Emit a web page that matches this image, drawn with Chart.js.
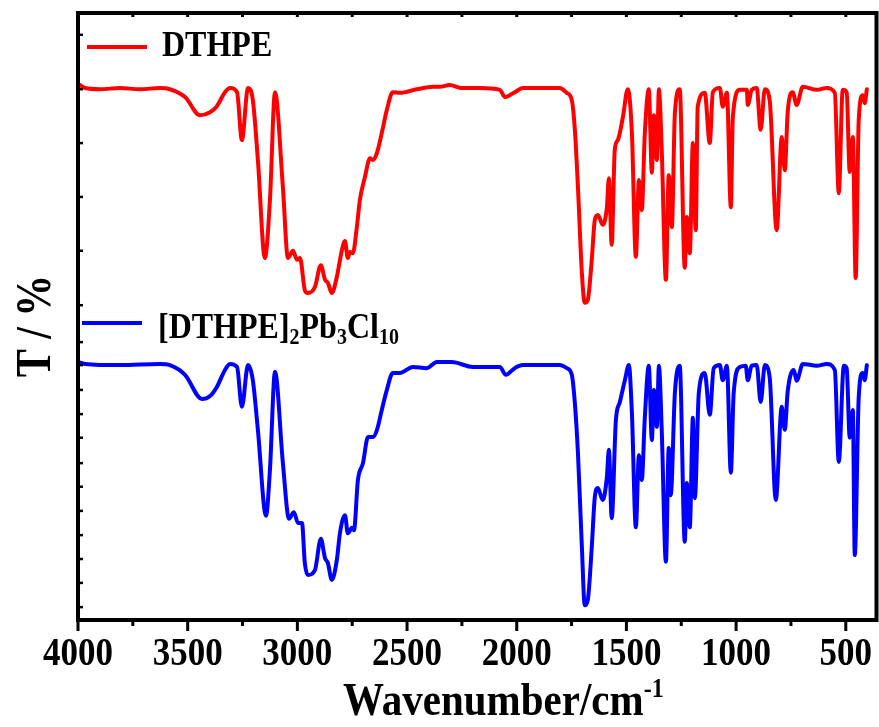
<!DOCTYPE html>
<html>
<head>
<meta charset="utf-8">
<script src="https://cdn.jsdelivr.net/npm/chart.js@4"></script>
<style>
  body { margin: 0; background: #fff; }
  #wrap { width: 879px; height: 727px; }
</style>
</head>
<body>
<div id="wrap"><canvas id="myChart" width="879" height="727"></canvas></div>
<script>
// wavenumber (cm-1) and offset transmittance
const redWavenumber = [
    4000, 3968, 3900, 3809, 3717, 3626, 3581, 3512, 3444, 3398,
    3367, 3330, 3307, 3275, 3253, 3225, 3203, 3180, 3148, 3125,
    3102, 3066, 3043, 3020, 3002, 2988, 2966, 2952, 2920, 2893,
    2874, 2861, 2843, 2820, 2797, 2783, 2770, 2760, 2747, 2729,
    2715, 2692, 2669, 2656, 2637, 2615, 2592, 2565, 2533, 2455,
    2382, 2350, 2305, 2250, 2168, 2077, 2054, 2009, 1972, 1895,
    1804, 1772, 1749, 1735, 1721, 1703, 1690, 1676, 1658, 1644,
    1630, 1608, 1589, 1580, 1567, 1553, 1539, 1516, 1494, 1475,
    1457, 1443, 1430, 1416, 1398, 1384, 1375, 1361, 1352, 1339,
    1320, 1307, 1293, 1279, 1257, 1234, 1225, 1211, 1197, 1184,
    1175, 1143, 1120, 1106, 1074, 1061, 1042, 1024, 1015, 983,
    951, 947, 929, 906, 888, 869, 847, 815, 792, 778,
    765, 742, 724, 696, 632, 587, 550, 532, 514, 496,
    482, 468, 455, 441, 423, 414, 404
];
const redT = [
    88.3, 87.6, 87.4, 87.6, 87.4, 87.6, 87.4, 86.1, 83.1, 83.6,
    84.6, 86.9, 87.6, 86.9, 79.0, 87.6, 85.6, 75.7, 59.5, 69.1,
    86.9, 71.2, 59.5, 60.7, 59.2, 59.5, 54.2, 53.7, 54.7, 58.3,
    55.9, 55.4, 53.7, 56.4, 60.8, 62.3, 59.5, 60.5, 60.3, 64.6,
    69.1, 72.9, 76.0, 75.7, 76.9, 80.2, 84.0, 86.9, 86.8, 87.4,
    87.8, 87.8, 88.1, 87.6, 87.6, 87.3, 86.1, 86.9, 87.6, 87.6,
    87.6, 86.8, 85.6, 80.7, 71.2, 57.0, 52.1, 52.6, 59.2, 65.8,
    66.6, 65.0, 67.9, 72.7, 61.7, 77.4, 79.0, 82.8, 87.4, 80.2,
    59.7, 72.4, 67.4, 80.2, 87.4, 73.6, 83.1, 75.7, 87.4, 77.4,
    55.9, 73.2, 64.6, 83.5, 87.4, 57.9, 66.3, 60.3, 78.5, 64.1,
    84.5, 86.8, 78.5, 86.9, 87.6, 84.5, 86.8, 67.9, 82.8, 87.3,
    87.3, 84.8, 87.3, 87.6, 80.7, 87.4, 85.6, 64.1, 79.5, 74.0,
    83.5, 86.9, 84.8, 87.8, 87.3, 87.6, 86.8, 70.2, 87.3, 86.9,
    73.7, 79.5, 56.2, 82.3, 86.4, 85.1, 87.4
];
const blueWavenumber = [
    4000, 3968, 3809, 3626, 3581, 3512, 3435, 3398, 3367, 3330,
    3307, 3275, 3253, 3225, 3203, 3180, 3143, 3125, 3102, 3066,
    3038, 3016, 2997, 2979, 2966, 2952, 2920, 2893, 2874, 2861,
    2843, 2820, 2806, 2783, 2770, 2751, 2742, 2724, 2701, 2678,
    2656, 2637, 2615, 2592, 2565, 2533, 2473, 2410, 2364, 2296,
    2200, 2077, 2050, 2009, 1972, 1804, 1772, 1749, 1735, 1721,
    1703, 1690, 1676, 1658, 1644, 1630, 1608, 1589, 1580, 1567,
    1548, 1530, 1507, 1489, 1475, 1457, 1443, 1430, 1416, 1398,
    1384, 1375, 1361, 1352, 1339, 1320, 1307, 1298, 1279, 1257,
    1234, 1225, 1211, 1197, 1188, 1170, 1143, 1120, 1102, 1074,
    1061, 1042, 1024, 1011, 983, 956, 947, 929, 906, 888,
    869, 847, 819, 792, 778, 765, 737, 724, 696, 632,
    587, 550, 532, 509, 496, 482, 468, 459, 441, 423,
    414, 404
];
const blueT = [
    42.3, 42.0, 41.8, 42.0, 41.8, 40.2, 36.2, 36.7, 38.2, 41.0,
    42.0, 41.5, 34.9, 41.8, 39.3, 31.1, 16.9, 24.5, 40.7, 25.6,
    16.4, 17.5, 15.7, 15.7, 9.1, 7.1, 7.9, 13.1, 9.9, 9.1,
    6.3, 9.6, 14.0, 17.0, 14.0, 14.9, 14.5, 22.8, 25.6, 29.9,
    29.9, 31.1, 34.4, 37.7, 40.5, 40.5, 41.5, 41.3, 42.3, 42.3,
    41.5, 41.5, 40.2, 41.3, 41.8, 41.8, 41.3, 40.2, 35.5, 27.3,
    11.7, 2.1, 3.0, 11.7, 20.0, 21.5, 19.5, 23.3, 27.8, 16.5,
    32.7, 35.7, 39.3, 41.8, 33.9, 15.0, 26.9, 22.8, 33.2, 41.7,
    29.4, 37.7, 31.6, 41.7, 31.1, 9.3, 28.1, 20.3, 37.2, 41.7,
    12.6, 22.3, 15.0, 33.1, 19.8, 37.2, 40.5, 33.6, 41.3, 41.8,
    39.3, 41.7, 24.0, 37.2, 41.5, 41.7, 39.3, 41.7, 41.8, 35.7,
    41.8, 39.8, 19.5, 34.9, 31.1, 37.4, 41.0, 39.2, 42.0, 41.7,
    42.0, 41.0, 25.8, 41.7, 41.3, 29.8, 34.4, 10.4, 36.5, 40.5,
    39.3, 41.8
];

const xTickLabels = [4000, 3500, 3000, 2500, 2000, 1500, 1000, 500];
const yTickValues = [96.4, 87.4, 78.5, 69.6, 60.7, 51.7,
    45.6, 41.8, 37.7, 33.7, 29.8, 25.6, 21.7, 17.7, 13.7, 9.75, 5.8, 1.8];

// legend text pieces, [text, isSubscript]
const redLabel = [['DTHPE', false]];
const blueLabel = [['[DTHPE]', false], ['2', true], ['Pb', false], ['3', true], ['Cl', false], ['10', true]];

const FONT = "'Liberation Serif', 'Times New Roman', serif";
const STRETCH = 1.14;

function toPoints(xs, ys) {
    return xs.map((x, i) => ({ x: x, y: ys[i] }));
}

/**
 * Draw bold serif text, a bit taller than wide like the original figure.
 */
function stretchedText(ctx, str, x, y, size, align, stretch) {
    ctx.save();
    ctx.font = 'bold ' + size + 'px ' + FONT;
    ctx.textAlign = align || 'left';
    ctx.textBaseline = 'alphabetic';
    ctx.fillStyle = '#000';
    ctx.translate(x, y);
    ctx.scale(1, stretch || STRETCH);
    ctx.fillText(str, 0, 0);
    ctx.restore();
    ctx.font = 'bold ' + size + 'px ' + FONT;
    return ctx.measureText(str).width;
}

function drawRichLabel(ctx, parts, x, y) {
    let cx = x;
    parts.forEach(p => {
        if (p[1]) {
            cx += stretchedText(ctx, p[0], cx, y + 6, 20);
        } else {
            cx += stretchedText(ctx, p[0], cx, y, 32);
        }
    });
}

const framePlugin = {
    id: 'frame',
    afterDraw(chart) {
        const ctx = chart.ctx;
        const a = chart.chartArea;
        const xs = chart.scales.x;
        const ys = chart.scales.y;

        ctx.save();
        ctx.strokeStyle = '#000';
        ctx.lineWidth = 4;
        ctx.strokeRect(a.left, a.top, a.right - a.left, a.bottom - a.top);

        // x ticks: outward at bottom, inward at top, every 250
        ctx.lineWidth = 3;
        xs.ticks.forEach(t => {
            const px = xs.getPixelForValue(t.value);
            const major = t.value % 500 === 0;
            ctx.beginPath();
            ctx.moveTo(px, a.bottom);
            ctx.lineTo(px, a.bottom + (major ? 11 : 6));
            ctx.moveTo(px, a.top);
            ctx.lineTo(px, a.top + 4);
            ctx.stroke();
        });
        // y ticks: short, inward
        ctx.lineWidth = 2.5;
        yTickValues.forEach(v => {
            const py = ys.getPixelForValue(v);
            ctx.beginPath();
            ctx.moveTo(a.left, py);
            ctx.lineTo(a.left + 5, py);
            ctx.stroke();
        });
        ctx.restore();

        xTickLabels.forEach(v => {
            stretchedText(ctx, String(v), xs.getPixelForValue(v), 665, 35, 'center');
        });

        // axis titles
        const w = stretchedText(ctx, 'Wavenumber/cm', 343, 715, 41);
        stretchedText(ctx, '-1', 343 + w, 697, 24);

        ctx.save();
        ctx.translate(50, 326);
        ctx.rotate(-Math.PI / 2);
        stretchedText(ctx, 'T / %', 0, 0, 42, 'center', 1.2);
        ctx.restore();

        // legend
        const sets = chart.data.datasets;
        ctx.save();
        ctx.lineWidth = 4;
        ctx.strokeStyle = sets[0].borderColor;
        ctx.beginPath();
        ctx.moveTo(87, 47);
        ctx.lineTo(147, 47);
        ctx.stroke();
        ctx.strokeStyle = sets[1].borderColor;
        ctx.beginPath();
        ctx.moveTo(82, 323);
        ctx.lineTo(142, 323);
        ctx.stroke();
        ctx.restore();
        drawRichLabel(ctx, redLabel, 162, 56);
        drawRichLabel(ctx, blueLabel, 158, 338);
    }
};

function initChart() {
    const ctx = document.getElementById('myChart').getContext('2d');
    const lineStyle = {
        borderWidth: 4,
        pointRadius: 0,
        cubicInterpolationMode: 'monotone',
        borderJoinStyle: 'round',
        borderCapStyle: 'round'
    };
    return new Chart(ctx, {
        type: 'line',
        data: {
            datasets: [Object.assign({
                label: 'DTHPE',
                data: toPoints(redWavenumber, redT),
                borderColor: '#ff0000'
            }, lineStyle), Object.assign({
                label: '[DTHPE]2Pb3Cl10',
                data: toPoints(blueWavenumber, blueT),
                borderColor: '#0000ff'
            }, lineStyle)]
        },
        options: {
            responsive: false,
            animation: false,
            devicePixelRatio: 1,
            layout: {
                padding: { top: 13, right: 2.5, left: 0, bottom: 0 }
            },
            plugins: {
                legend: { display: false },
                tooltip: { enabled: false }
            },
            scales: {
                x: {
                    type: 'linear',
                    reverse: true,
                    min: 360,
                    max: 4000,
                    grid: { display: false },
                    border: { display: false },
                    ticks: { display: false },
                    afterBuildTicks(scale) {
                        const t = [];
                        for (let v = 4000; v >= 500; v -= 250) t.push({ value: v });
                        scale.ticks = t;
                    },
                    afterFit(scale) { scale.height = 107; }
                },
                y: {
                    type: 'linear',
                    min: -0.33,
                    max: 100,
                    grid: { display: false },
                    border: { display: false },
                    ticks: { display: false },
                    afterFit(scale) { scale.width = 78; }
                }
            }
        },
        plugins: [framePlugin]
    });
}

initChart();
</script>
</body>
</html>
